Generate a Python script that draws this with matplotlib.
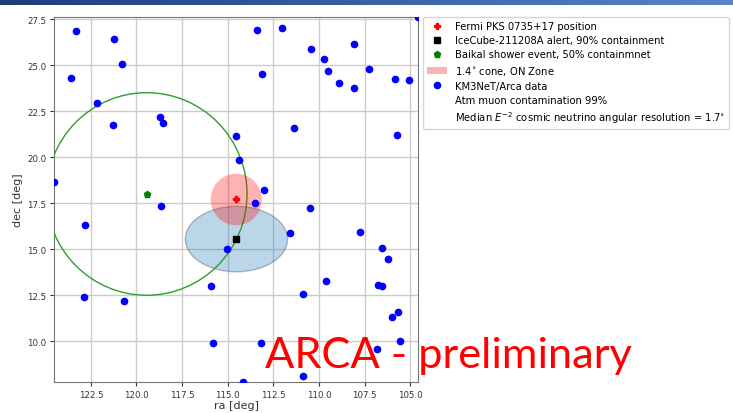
import numpy as np
import matplotlib.pyplot as plt
from matplotlib.patches import Circle, Ellipse

# KM3NeT/ARCA events around the source (ra, dec in deg)
ra = [123.34, 123.60, 121.22, 120.80, 122.19, 121.29, 118.72, 118.52, 124.52, 118.65,
      113.42, 112.02, 110.43, 108.07, 109.73, 109.51, 108.91, 108.07, 107.25, 105.83,
      105.06, 104.57, 113.11, 111.34, 105.73, 114.52, 114.39, 113.00, 113.50, 110.50,
      122.83, 122.87, 120.71, 115.89, 115.82, 111.60, 115.06, 107.76, 106.52, 106.19,
      109.62, 110.85, 106.74, 106.56, 106.02, 105.64, 113.20, 106.84, 105.57, 114.15,
      110.85]
dec = [26.84, 24.33, 26.45, 25.07, 22.97, 21.77, 22.21, 21.86, 18.68, 17.36,
       26.92, 27.02, 25.87, 26.16, 25.36, 24.71, 24.04, 23.79, 24.82, 24.28,
       24.20, 27.62, 24.50, 21.60, 21.22, 21.15, 19.88, 18.23, 17.54, 17.26,
       16.34, 12.42, 12.20, 13.03, 9.91, 15.89, 15.02, 15.96, 15.09, 14.47,
       13.29, 12.58, 13.06, 13.03, 11.33, 11.58, 9.91, 9.60, 10.02, 7.80,
       8.10]

# source and alerts
fermi_pos = (114.53, 17.71)
icecube_pos = (114.52, 15.56)
icecube_size = (5.6, 3.55)      # full width in ra, full height in dec
baikal_pos = (119.44, 18.01)
baikal_r50 = 5.5
cone_r = 1.4

fig = plt.figure(figsize=(7.33, 4.14), dpi=100)

# slide header band
band = fig.add_axes([0, 1 - 6 / 414, 1, 6 / 414])
band.imshow(np.linspace(0, 1, 256)[None, :], aspect='auto',
            cmap=plt.matplotlib.colors.LinearSegmentedColormap.from_list(
                'hdr', ['#1c3d7a', '#5a84c6']))
band.axis('off')

ax = fig.add_axes([54 / 733, 1 - 383 / 414, 364 / 733, 365 / 414])

ax.add_patch(Ellipse(icecube_pos, icecube_size[0], icecube_size[1],
                     facecolor=(0.12, 0.47, 0.71, 0.3), edgecolor=(0.3, 0.35, 0.4, 0.4),
                     lw=1, zorder=2))
ax.add_patch(Circle(baikal_pos, baikal_r50, fill=False, edgecolor='#2ca02c',
                    lw=1, zorder=3))
ax.add_patch(Circle(fermi_pos, cone_r, facecolor='red', alpha=0.3, lw=0, zorder=4))

ax.plot(*fermi_pos, 'P', color='red', ms=5, zorder=6)
ax.plot(*icecube_pos, 's', color='black', ms=4.5, zorder=6)
ax.plot(*baikal_pos, 'p', color='green', ms=5, zorder=6)
ax.plot(ra, dec, 'o', color='blue', ms=4.5, zorder=5)

ax.set_xlim(max(ra), min(ra))
ax.set_ylim(min(dec), max(dec))
ax.xaxis.set_major_locator(plt.MultipleLocator(2.5))
ax.yaxis.set_major_locator(plt.MultipleLocator(2.5))
ax.xaxis.set_major_formatter(plt.FormatStrFormatter('%.1f'))
ax.yaxis.set_major_formatter(plt.FormatStrFormatter('%.1f'))
ax.grid(color='#cccccc', lw=1)
ax.set_axisbelow(True)
ax.tick_params(labelsize=6.2, colors='#333333', length=3, width=0.8, pad=2.5)
for s in ax.spines.values():
    s.set_color('#777777')
ax.set_xlabel('ra [deg]', fontsize=8, color='#333333', labelpad=1)
ax.set_ylabel('dec [deg]', fontsize=8, color='#333333', labelpad=3)

# legend handles
h = [
    ax.plot([], [], 'P', color='red', ms=5, label='Fermi PKS 0735+17 position')[0],
    ax.plot([], [], 's', color='black', ms=4.5, label='IceCube-211208A alert, 90% containment')[0],
    ax.plot([], [], 'p', color='green', ms=5, label='Baikal shower event, 50% containmnet')[0],
    plt.Rectangle((0, 0), 1, 1, facecolor='red', alpha=0.3, label=r'1.4$^{\circ}$ cone, ON Zone'),
    ax.plot([], [], 'o', color='blue', ms=4.5, label='KM3NeT/Arca data')[0],
    ax.plot([], [], ' ', label='Atm muon contamination 99%')[0],
    ax.plot([], [], ' ', label=r'Median $E^{-2}$ cosmic neutrino angular resolution = 1.7$^{\circ}$')[0],
]
ax.legend(handles=h, loc='upper left', bbox_to_anchor=(1.014, 1.0), borderaxespad=0,
          fontsize=7.2, labelspacing=0.42)

fig.text(265 / 733, 1 - 368 / 414, 'ARCA - preliminary', color='red',
         fontsize=31.2, family='Lato', ha='left', va='baseline')

fig.savefig('out.png', dpi=100)
